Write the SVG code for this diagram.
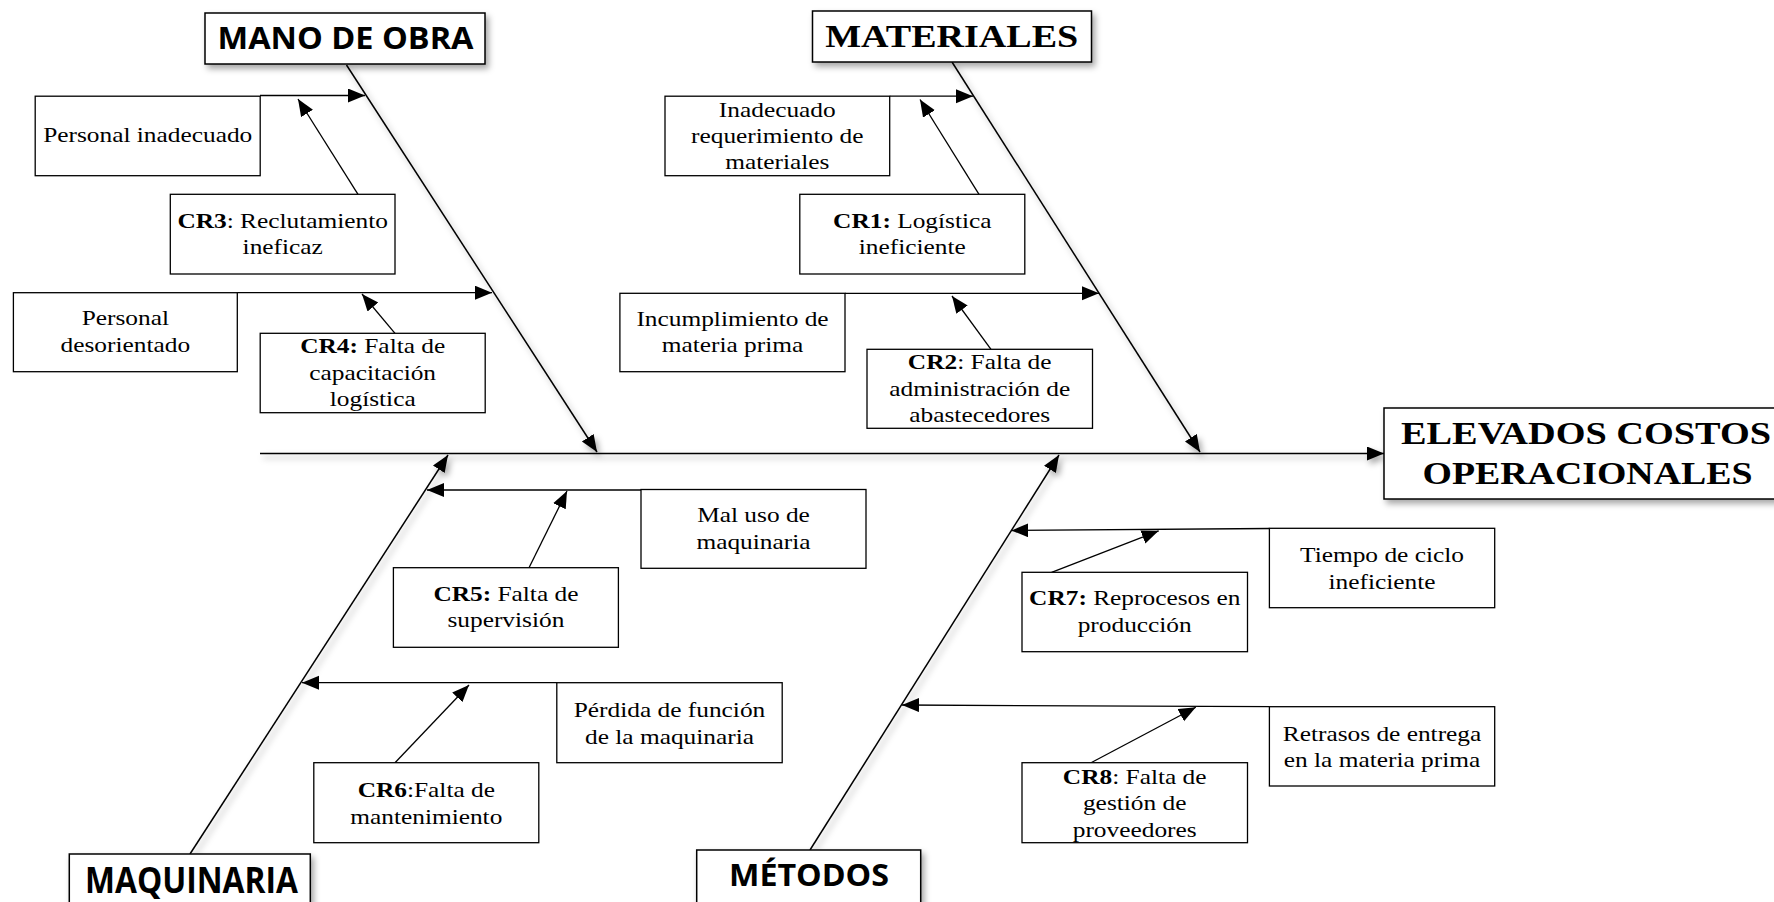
<svg xmlns="http://www.w3.org/2000/svg" width="1774" height="902" viewBox="0 0 1774 902">
<style>
.bx{fill:#fff;stroke:#000;stroke-width:1.3}
.cb{fill:#fff;stroke:#000;stroke-width:1.5}
.t{font-family:"Liberation Serif","Times New Roman",serif;font-size:21.5px;fill:#000;text-anchor:middle}
.t .b{font-weight:bold}
.hs{font-family:"Open Sans","Noto Sans",sans-serif;font-weight:bold;fill:#000;text-anchor:middle}
.ht{font-family:"Liberation Serif","Times New Roman",serif;font-weight:bold;font-size:32.5px;fill:#000;text-anchor:middle}
.ln{fill:none;stroke:#000;stroke-width:1.3;marker-end:url(#arr)}
.sp{fill:none;stroke:#000;stroke-width:1.5;marker-end:url(#arr)}
</style>
<defs>
<marker id="arr" markerUnits="userSpaceOnUse" markerWidth="18" markerHeight="16" refX="17" refY="7" orient="auto"><path d="M0,0 L17,7 L0,14 z" fill="#000"/></marker>
<filter id="sh" x="-20%" y="-20%" width="140%" height="160%"><feDropShadow dx="3" dy="4" stdDeviation="3" flood-color="#000" flood-opacity="0.35"/></filter>
</defs>
<rect width="1774" height="902" fill="#fff"/>

<g id="connectors">
<g filter="url(#sh)">
<path class="sp" d="M260,453.5 L1384,453.5"/>
<path class="sp" d="M346.5,65 L597,452"/>
<path class="sp" d="M952,62 L1200,452"/>
<path class="sp" d="M190,854 L448,455"/>
<path class="sp" d="M810,850 L1059,455"/>
</g>
<path class="ln" d="M260,95.5 L365,95.5"/>
<path class="ln" d="M358,194.3 L298,99"/>
<path class="ln" d="M237.3,292.7 L492,292.7"/>
<path class="ln" d="M395,333.3 L362,294"/>
<path class="ln" d="M889.7,96.2 L973,96.2"/>
<path class="ln" d="M979,194.3 L920,99.5"/>
<path class="ln" d="M845,293.3 L1099,293.3"/>
<path class="ln" d="M991,349.3 L952,296"/>
<path class="ln" d="M641,490 L427,490"/>
<path class="ln" d="M529,567.7 L567,491"/>
<path class="ln" d="M557,682.7 L302,682.7"/>
<path class="ln" d="M395,762.7 L469,685"/>
<path class="ln" d="M1269.4,528.5 L1011.4,530.5"/>
<path class="ln" d="M1051.6,572.3 L1158.7,530.8"/>
<path class="ln" d="M1269.4,706.7 L902,705"/>
<path class="ln" d="M1091,762.7 L1195.8,707.2"/>
</g>

<g id="mano-de-obra"><rect class="cb" filter="url(#sh)" x="205" y="13" width="280" height="51"/><text class="hs" font-size="29.5" x="345.5" y="49.3" textLength="256" lengthAdjust="spacingAndGlyphs">MANO DE OBRA</text></g>
<g id="materiales"><rect class="cb" filter="url(#sh)" x="812.5" y="11" width="279" height="51"/><text class="ht" x="951.7" y="46.7" textLength="253" lengthAdjust="spacingAndGlyphs">MATERIALES</text></g>
<g id="maquinaria"><rect class="cb" filter="url(#sh)" x="69.3" y="854" width="241" height="70"/><text class="hs" font-size="35" x="191.5" y="893" textLength="213" lengthAdjust="spacingAndGlyphs">MAQUINARIA</text></g>
<g id="metodos"><rect class="cb" filter="url(#sh)" x="696.7" y="850" width="224" height="70"/><text class="hs" font-size="29.5" x="809" y="886" textLength="160" lengthAdjust="spacingAndGlyphs">MÉTODOS</text></g>
<g id="efecto"><rect class="cb" filter="url(#sh)" x="1384" y="408" width="410" height="91"/><text class="ht"><tspan x="1586" y="443.5" textLength="370" lengthAdjust="spacingAndGlyphs">ELEVADOS COSTOS</tspan><tspan x="1587.5" y="483.5" textLength="330" lengthAdjust="spacingAndGlyphs">OPERACIONALES</tspan></text></g>

<g id="personal-inadecuado"><rect class="bx" x="35.2" y="96.2" width="225" height="79.5"/><text class="t" transform="translate(147.7,141.7) scale(1.18,1)">Personal inadecuado</text></g>
<g id="cr3"><rect class="bx" x="170.3" y="194.3" width="224.7" height="79.7"/><text class="t" transform="translate(282.7,227.5) scale(1.18,1)"><tspan class="b">CR3</tspan>: Reclutamiento<tspan x="0" dy="26.6">ineficaz</tspan></text></g>
<g id="personal-desorientado"><rect class="bx" x="13.4" y="292.7" width="223.9" height="79"/><text class="t" transform="translate(125.3,325) scale(1.18,1)">Personal<tspan x="0" dy="26.6">desorientado</tspan></text></g>
<g id="cr4"><rect class="bx" x="260.2" y="333.3" width="225" height="79.4"/><text class="t" transform="translate(372.7,353.3) scale(1.18,1)"><tspan class="b">CR4:</tspan> Falta de<tspan x="0" dy="26.6">capacitación</tspan><tspan x="0" dy="26.6">logística</tspan></text></g>

<g id="inadecuado-requerimiento"><rect class="bx" x="665" y="96.2" width="224.7" height="79.5"/><text class="t" transform="translate(777.3,116.5) scale(1.18,1)">Inadecuado<tspan x="0" dy="26.2">requerimiento de</tspan><tspan x="0" dy="26.2">materiales</tspan></text></g>
<g id="cr1"><rect class="bx" x="799.8" y="194.3" width="225" height="79.7"/><text class="t" transform="translate(912.3,227.5) scale(1.18,1)"><tspan class="b">CR1:</tspan> Logística<tspan x="0" dy="26.6">ineficiente</tspan></text></g>
<g id="incumplimiento"><rect class="bx" x="619.9" y="293.3" width="225.1" height="78.4"/><text class="t" transform="translate(732.5,325.5) scale(1.18,1)">Incumplimiento de<tspan x="0" dy="26.6">materia prima</tspan></text></g>
<g id="cr2"><rect class="bx" x="867" y="349.3" width="225.5" height="79"/><text class="t" transform="translate(979.7,369.3) scale(1.18,1)"><tspan class="b">CR2</tspan>: Falta de<tspan x="0" dy="26.4">administración de</tspan><tspan x="0" dy="26.4">abastecedores</tspan></text></g>

<g id="mal-uso"><rect class="bx" x="641" y="489.5" width="225" height="78.8"/><text class="t" transform="translate(753.5,522) scale(1.18,1)">Mal uso de<tspan x="0" dy="26.6">maquinaria</tspan></text></g>
<g id="cr5"><rect class="bx" x="393.4" y="567.7" width="225" height="79.6"/><text class="t" transform="translate(505.9,600.5) scale(1.18,1)"><tspan class="b">CR5:</tspan> Falta de<tspan x="0" dy="26.6">supervisión</tspan></text></g>
<g id="perdida"><rect class="bx" x="556.8" y="682.7" width="225.4" height="80"/><text class="t" transform="translate(669.5,717) scale(1.18,1)">Pérdida de función<tspan x="0" dy="26.6">de la maquinaria</tspan></text></g>
<g id="cr6"><rect class="bx" x="313.8" y="762.7" width="225" height="80"/><text class="t" transform="translate(426.3,797) scale(1.18,1)"><tspan class="b">CR6</tspan>:Falta de<tspan x="0" dy="26.6">mantenimiento</tspan></text></g>

<g id="tiempo-ciclo"><rect class="bx" x="1269.4" y="528.3" width="225.3" height="79.4"/><text class="t" transform="translate(1382,562) scale(1.18,1)">Tiempo de ciclo<tspan x="0" dy="26.6">ineficiente</tspan></text></g>
<g id="cr7"><rect class="bx" x="1022" y="572.3" width="225.5" height="79.4"/><text class="t" transform="translate(1134.7,605.3) scale(1.18,1)"><tspan class="b">CR7:</tspan> Reprocesos en<tspan x="0" dy="26.6">producción</tspan></text></g>
<g id="retrasos"><rect class="bx" x="1269.4" y="706.7" width="225.3" height="79.3"/><text class="t" transform="translate(1382,740.5) scale(1.18,1)">Retrasos de entrega<tspan x="0" dy="26.6">en la materia prima</tspan></text></g>
<g id="cr8"><rect class="bx" x="1022" y="762.7" width="225.5" height="80"/><text class="t" transform="translate(1134.7,783.5) scale(1.18,1)"><tspan class="b">CR8</tspan>: Falta de<tspan x="0" dy="26.6">gestión de</tspan><tspan x="0" dy="26.6">proveedores</tspan></text></g>
</svg>
